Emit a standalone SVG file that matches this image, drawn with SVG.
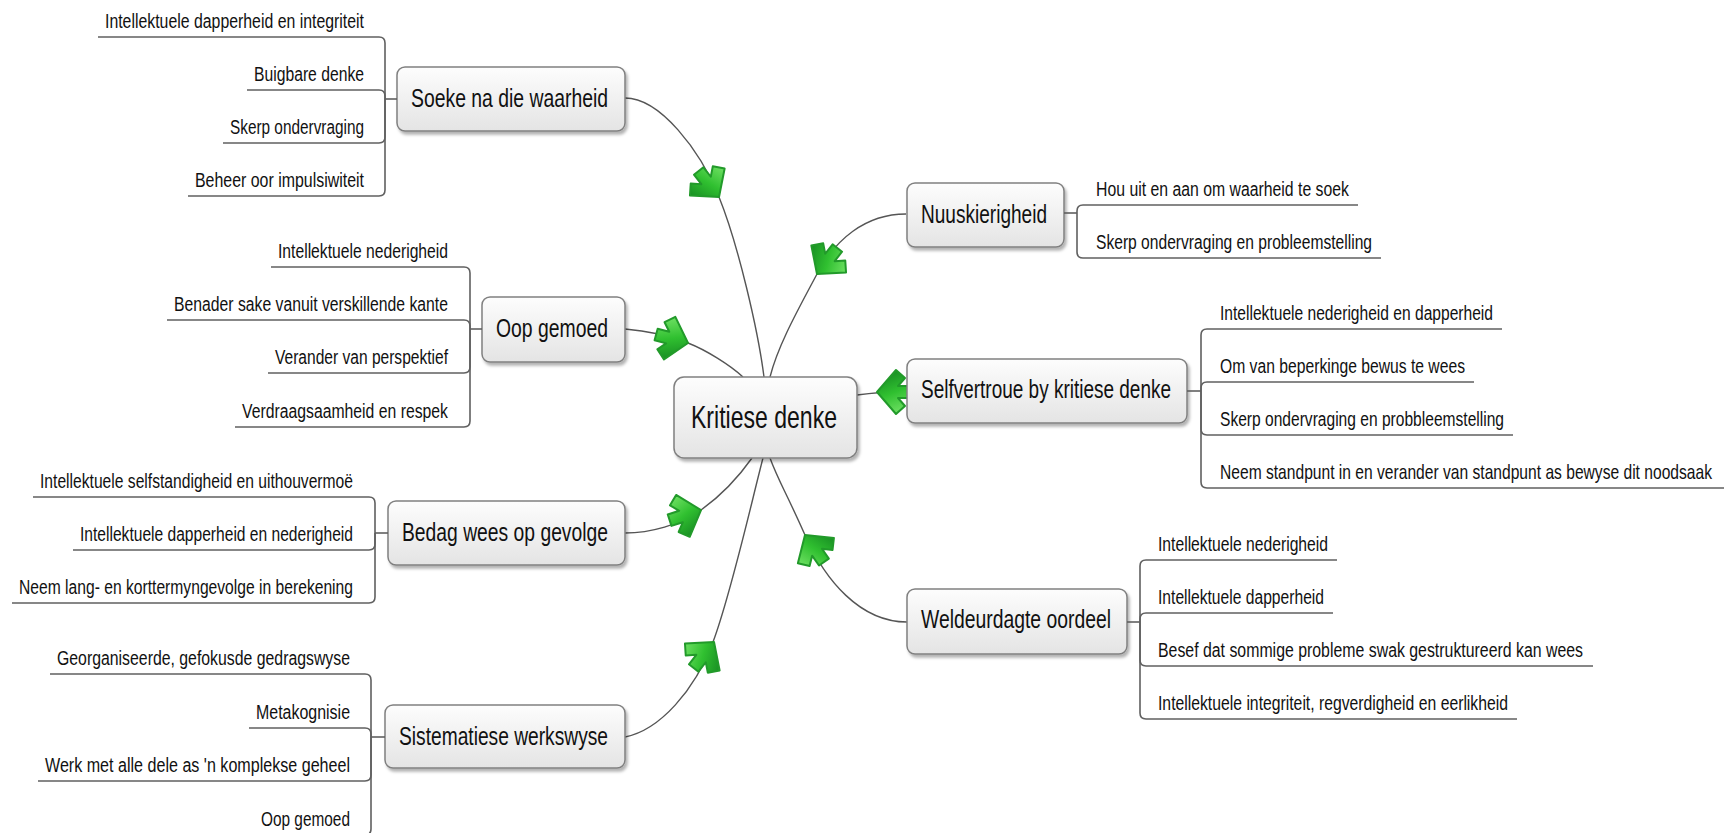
<svg xmlns="http://www.w3.org/2000/svg" xmlns:xlink="http://www.w3.org/1999/xlink" width="1724" height="833" viewBox="0 0 1724 833">
<defs>
<linearGradient id="nodeFill" x1="0" y1="0" x2="0" y2="1">
<stop offset="0" stop-color="#fdfdfd"/>
<stop offset="1" stop-color="#e4e4e4"/>
</linearGradient>
<linearGradient id="arrFill" x1="0.3" y1="0" x2="0.6" y2="1">
<stop offset="0" stop-color="#72e266"/>
<stop offset="0.5" stop-color="#30c030"/>
<stop offset="1" stop-color="#168a22"/>
</linearGradient>
<filter id="shadow" x="-10%" y="-10%" width="125%" height="130%">
<feDropShadow dx="2" dy="3" stdDeviation="1.5" flood-color="#000" flood-opacity="0.3"/>
</filter>
<path id="arr" d="M0,0 L-19,-22 L-28,-14 L-21,-6 L-33,-6 L-33,6 L-21,6 L-28,14 L-19,22 Z" fill="url(#arrFill)" stroke="#229a2a" stroke-width="2" stroke-linejoin="round"/>
</defs>
<style>
.node rect { fill: url(#nodeFill); stroke: #808080; stroke-width: 1.5; filter: url(#shadow); }
.ntext { font-family: "Liberation Sans Narrow", "Liberation Sans", Arial, sans-serif; font-size: 26px; fill: #111; }
.ctext { font-family: "Liberation Sans Narrow", "Liberation Sans", Arial, sans-serif; font-size: 32px; fill: #111; }
.leaf text { font-family: "Liberation Sans Narrow", "Liberation Sans", Arial, sans-serif; font-size: 20px; fill: #111; }
.leaf path { fill: none; stroke: #606060; stroke-width: 1.6; }
.conn path { fill: none; stroke: #555; stroke-width: 1.4; }
</style>
<rect width="1724" height="833" fill="#ffffff"/>

<g id="connectors" class="conn">
<path d="M625,98 C660,98 700,150 719,197 S758,330 764,377"/>
<path d="M625,329 C650,331 670,336 688,343 S730,365 743,377"/>
<path d="M906,214 C865,214 835,240 817,274 S778,345 770,377"/>
<path d="M907,391 Q880,392 857,395"/>
<path d="M625,533 C650,533 680,525 701,510 S740,475 752,458"/>
<path d="M625,737 C660,730 695,690 713,642 S752,500 763,458"/>
<path d="M907,622 C860,622 825,580 805,535 S778,480 770,458"/>
<use xlink:href="#arr" href="#arr" transform="translate(719,197) rotate(52)"/>
<use xlink:href="#arr" href="#arr" transform="translate(688,343) rotate(15)"/>
<use xlink:href="#arr" href="#arr" transform="translate(817,274) rotate(128)"/>
<use xlink:href="#arr" href="#arr" transform="translate(877,392) rotate(180)"/>
<use xlink:href="#arr" href="#arr" transform="translate(701,510) rotate(-18)"/>
<use xlink:href="#arr" href="#arr" transform="translate(714,642) rotate(-52)"/>
<use xlink:href="#arr" href="#arr" transform="translate(805,535) rotate(-125)"/>
</g>

<g id="node-kritiese" class="node">
<rect x="674" y="377" width="183" height="81" rx="10"/>
<text class="ctext" x="691" y="428" textLength="146" lengthAdjust="spacingAndGlyphs">Kritiese denke</text>
</g>

<g id="node-soeke" class="node">
<rect x="397" y="67" width="228" height="64" rx="8"/>
<text class="ntext" x="411" y="107" textLength="197" lengthAdjust="spacingAndGlyphs">Soeke na die waarheid</text>
</g>
<g id="leaves-soeke" class="leaf">
<path d="M385,99 H397"/>
<path d="M385,99 V43 Q385,37 379,37 H98"/>
<path d="M385,99 V96 Q385,90 379,90 H247"/>
<path d="M385,99 V137 Q385,143 379,143 H223"/>
<path d="M385,99 V190 Q385,196 379,196 H188"/>
<text x="105" y="28" textLength="259" lengthAdjust="spacingAndGlyphs">Intellektuele dapperheid en integriteit</text>
<text x="254" y="81" textLength="110" lengthAdjust="spacingAndGlyphs">Buigbare denke</text>
<text x="230" y="134" textLength="134" lengthAdjust="spacingAndGlyphs">Skerp ondervraging</text>
<text x="195" y="187" textLength="169" lengthAdjust="spacingAndGlyphs">Beheer oor impulsiwiteit</text>
</g>

<g id="node-oop" class="node">
<rect x="482" y="297" width="143" height="65" rx="8"/>
<text class="ntext" x="496" y="337" textLength="112" lengthAdjust="spacingAndGlyphs">Oop gemoed</text>
</g>
<g id="leaves-oop" class="leaf">
<path d="M470,329 H482"/>
<path d="M470,329 V273 Q470,267 464,267 H271"/>
<path d="M470,329 V326 Q470,320 464,320 H167"/>
<path d="M470,329 V367 Q470,373 464,373 H268"/>
<path d="M470,329 V421 Q470,427 464,427 H235"/>
<text x="278" y="258" textLength="170" lengthAdjust="spacingAndGlyphs">Intellektuele nederigheid</text>
<text x="174" y="311" textLength="274" lengthAdjust="spacingAndGlyphs">Benader sake vanuit verskillende kante</text>
<text x="275" y="364" textLength="173" lengthAdjust="spacingAndGlyphs">Verander van perspektief</text>
<text x="242" y="418" textLength="206" lengthAdjust="spacingAndGlyphs">Verdraagsaamheid en respek</text>
</g>

<g id="node-bedag" class="node">
<rect x="388" y="501" width="237" height="64" rx="8"/>
<text class="ntext" x="402" y="541" textLength="206" lengthAdjust="spacingAndGlyphs">Bedag wees op gevolge</text>
</g>
<g id="leaves-bedag" class="leaf">
<path d="M375,533 H388"/>
<path d="M375,533 V503 Q375,497 369,497 H33"/>
<path d="M375,533 V544 Q375,550 369,550 H73"/>
<path d="M375,533 V597 Q375,603 369,603 H12"/>
<text x="40" y="488" textLength="313" lengthAdjust="spacingAndGlyphs">Intellektuele selfstandigheid en uithouvermoë</text>
<text x="80" y="541" textLength="273" lengthAdjust="spacingAndGlyphs">Intellektuele dapperheid en nederigheid</text>
<text x="19" y="594" textLength="334" lengthAdjust="spacingAndGlyphs">Neem lang- en korttermyngevolge in berekening</text>
</g>

<g id="node-sistematiese" class="node">
<rect x="385" y="705" width="240" height="63" rx="8"/>
<text class="ntext" x="399" y="745" textLength="209" lengthAdjust="spacingAndGlyphs">Sistematiese werkswyse</text>
</g>
<g id="leaves-sistematiese" class="leaf">
<path d="M371,737 H385"/>
<path d="M371,737 V680 Q371,674 365,674 H50"/>
<path d="M371,737 V734 Q371,728 365,728 H249"/>
<path d="M371,737 V775 Q371,781 365,781 H38"/>
<path d="M371,737 V829 Q371,835 365,835 H254"/>
<text x="57" y="665" textLength="293" lengthAdjust="spacingAndGlyphs">Georganiseerde, gefokusde gedragswyse</text>
<text x="256" y="719" textLength="94" lengthAdjust="spacingAndGlyphs">Metakognisie</text>
<text x="45" y="772" textLength="305" lengthAdjust="spacingAndGlyphs">Werk met alle dele as 'n komplekse geheel</text>
<text x="261" y="826" textLength="89" lengthAdjust="spacingAndGlyphs">Oop gemoed</text>
</g>

<g id="node-nuuskierigheid" class="node">
<rect x="907" y="183" width="157" height="64" rx="8"/>
<text class="ntext" x="921" y="223" textLength="126" lengthAdjust="spacingAndGlyphs">Nuuskierigheid</text>
</g>
<g id="leaves-nuuskierigheid" class="leaf">
<path d="M1064,213 H1077"/>
<path d="M1077,213 V211 Q1077,205 1083,205 H1358"/>
<path d="M1077,213 V252 Q1077,258 1083,258 H1381"/>
<text x="1096" y="196" textLength="253" lengthAdjust="spacingAndGlyphs">Hou uit en aan om waarheid te soek</text>
<text x="1096" y="249" textLength="276" lengthAdjust="spacingAndGlyphs">Skerp ondervraging en probleemstelling</text>
</g>

<g id="node-selfvertroue" class="node">
<rect x="907" y="359" width="280" height="64" rx="8"/>
<text class="ntext" x="921" y="398" textLength="250" lengthAdjust="spacingAndGlyphs">Selfvertroue by kritiese denke</text>
</g>
<g id="leaves-selfvertroue" class="leaf">
<path d="M1187,391 H1201"/>
<path d="M1201,391 V335 Q1201,329 1207,329 H1502"/>
<path d="M1201,391 V388 Q1201,382 1207,382 H1474"/>
<path d="M1201,391 V429 Q1201,435 1207,435 H1513"/>
<path d="M1201,391 V482 Q1201,488 1207,488 H1724"/>
<text x="1220" y="320" textLength="273" lengthAdjust="spacingAndGlyphs">Intellektuele nederigheid en dapperheid</text>
<text x="1220" y="373" textLength="245" lengthAdjust="spacingAndGlyphs">Om van beperkinge bewus te wees</text>
<text x="1220" y="426" textLength="284" lengthAdjust="spacingAndGlyphs">Skerp ondervraging en probbleemstelling</text>
<text transform="translate(1220,479) scale(0.75,1)" x="0" y="0" textLength="656" lengthAdjust="spacingAndGlyphs">Neem standpunt in en verander van standpunt as bewyse dit noodsaak</text>
</g>

<g id="node-weldeurdagte" class="node">
<rect x="907" y="589" width="220" height="65" rx="8"/>
<text class="ntext" x="921" y="628" textLength="190" lengthAdjust="spacingAndGlyphs">Weldeurdagte oordeel</text>
</g>
<g id="leaves-weldeurdagte" class="leaf">
<path d="M1127,622 H1140"/>
<path d="M1140,622 V566 Q1140,560 1146,560 H1337"/>
<path d="M1140,622 V619 Q1140,613 1146,613 H1333"/>
<path d="M1140,622 V660 Q1140,666 1146,666 H1593"/>
<path d="M1140,622 V713 Q1140,719 1146,719 H1517"/>
<text x="1158" y="551" textLength="170" lengthAdjust="spacingAndGlyphs">Intellektuele nederigheid</text>
<text x="1158" y="604" textLength="166" lengthAdjust="spacingAndGlyphs">Intellektuele dapperheid</text>
<text x="1158" y="657" textLength="425" lengthAdjust="spacingAndGlyphs">Besef dat sommige probleme swak gestruktureerd kan wees</text>
<text x="1158" y="710" textLength="350" lengthAdjust="spacingAndGlyphs">Intellektuele integriteit, regverdigheid en eerlikheid</text>
</g>
</svg>
